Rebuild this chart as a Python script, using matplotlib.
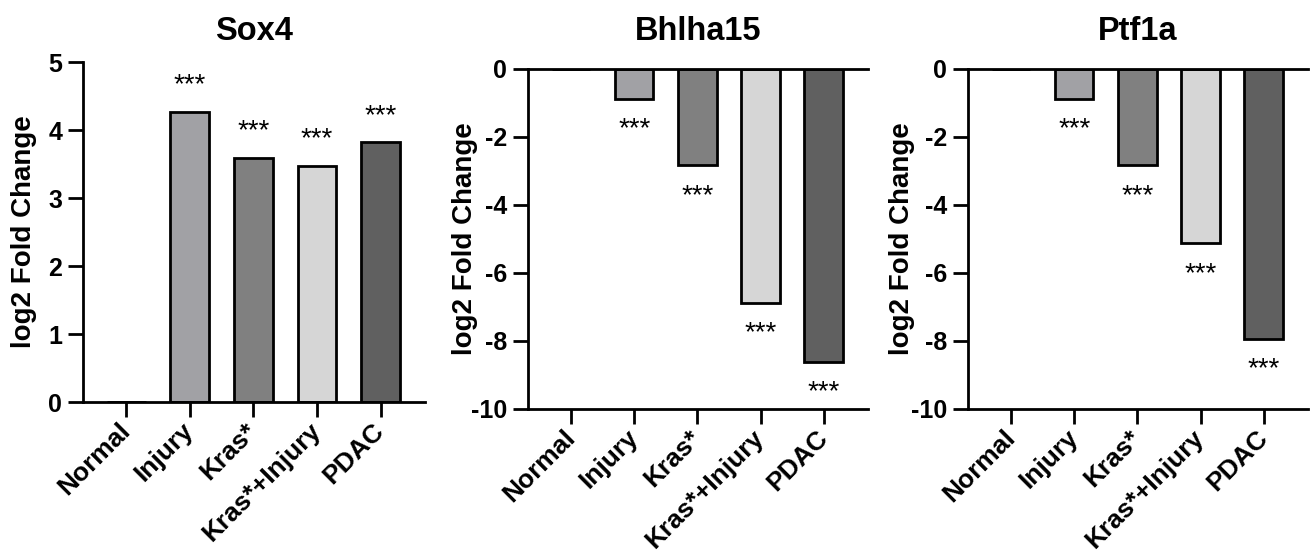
import matplotlib
matplotlib.use('Agg')
import matplotlib.pyplot as plt
import matplotlib.transforms as mtransforms

plt.rcParams['font.family'] = ['Liberation Sans', 'DejaVu Sans']
plt.rcParams['font.weight'] = 'bold'
plt.rcParams['axes.unicode_minus'] = False

categories = ['Normal', 'Injury', 'Kras*', 'Kras*+Injury', 'PDAC']
bar_colors = ['#ffffff', '#a1a1a5', '#808080', '#d6d6d6', '#606060']
sig = ['', '***', '***', '***', '***']

genes = ['Sox4', 'Bhlha15', 'Ptf1a']
sox4 = [0, 4.27, 3.59, 3.47, 3.82]
bhlha15 = [0, -0.88, -2.83, -6.87, -8.62]
ptf1a = [0, -0.88, -2.83, -5.13, -7.93]
values = [sox4, bhlha15, ptf1a]

sox4_ticks = [0, 1, 2, 3, 4, 5]
neg_ticks = [0, -2, -4, -6, -8, -10]

W, H = 1313, 556
fig = plt.figure(figsize=(W / 100, H / 100), dpi=100)

# axes boxes in pixels: left, top, right, bottom
boxes = [(83, 62, 425, 402), (528, 69, 868, 409), (968, 69, 1308, 409)]
label_x = [-0.135, -0.147, -0.156]

for i, gene in enumerate(genes):
    l, t, r, b = boxes[i]
    ax = fig.add_axes([l / W, 1 - b / H, (r - l) / W, (b - t) / H])
    vals = values[i]
    x = range(len(categories))
    ax.bar(x, vals, width=0.61, color=bar_colors, edgecolor='black',
           linewidth=2, zorder=3)
    ax.set_xlim(-0.68, 4.7)
    ax.spines['right'].set_visible(False)
    if i == 0:
        ax.set_ylim(0, 5)
        ax.set_yticks(sox4_ticks)
        ax.spines['top'].set_visible(False)
        title_pad = 16
    else:
        ax.set_ylim(-10, 0)
        ax.set_yticks(neg_ticks)
        title_pad = 21
    for s in ax.spines.values():
        s.set_linewidth(2)
        s.set_zorder(4)
    ax.set_xticks(list(x))
    ax.set_xticklabels(categories, rotation=45, ha='right', va='center',
                       rotation_mode='anchor')
    # nudge rotated labels a little to the right
    shift = mtransforms.ScaledTranslation(4 / 100, 0, fig.dpi_scale_trans)
    for lab in ax.get_xticklabels():
        lab.set_transform(lab.get_transform() + shift)
    ax.tick_params(axis='both', length=11, width=2, labelsize=18, pad=4)
    ax.tick_params(axis='x', pad=7, labelsize=19)
    ax.set_ylabel('log2 Fold Change', fontsize=20, fontweight='bold')
    ax.yaxis.set_label_coords(label_x[i], 0.5)
    ax.set_title(gene, fontsize=23.5, fontweight='bold', pad=title_pad)

    for xi, v, s in zip(x, vals, sig):
        if not s:
            continue
        if v >= 0:
            ax.annotate(s, (xi, v), xytext=(0, 19), textcoords='offset points',
                        ha='center', va='center', fontsize=20,
                        fontweight='normal')
        else:
            ax.annotate(s, (xi, v), xytext=(0, -22), textcoords='offset points',
                        ha='center', va='center', fontsize=20,
                        fontweight='normal')

fig.savefig('out.png', dpi=100)
